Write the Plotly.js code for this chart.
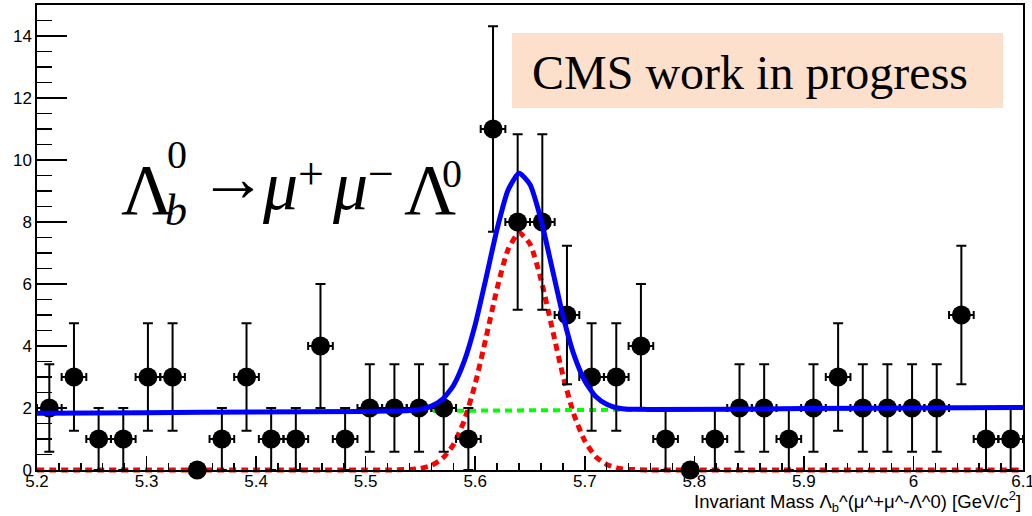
<!DOCTYPE html>
<html>
<head>
<meta charset="utf-8">
<script src="https://cdn.plot.ly/plotly-3.0.1.min.js"></script>
<style>html,body{margin:0;padding:0;background:#fff;}#chart{width:1032px;height:516px;}</style>
</head>
<body>
<div id="chart"></div>
<script>
// ---- data ----
const massCenters = [5.21125, 5.23375, 5.25625, 5.27875, 5.30125, 5.32375, 5.34625, 5.36875, 5.39125, 5.41375,
  5.43625, 5.45875, 5.48125, 5.50375, 5.52625, 5.54875, 5.57125, 5.59375, 5.61625, 5.63875,
  5.66125, 5.68375, 5.70625, 5.72875, 5.75125, 5.77375, 5.79625, 5.81875, 5.84125, 5.86375,
  5.88625, 5.90875, 5.93125, 5.95375, 5.97625, 5.99875, 6.02125, 6.04375, 6.06625, 6.08875];
const counts = [2, 3, 1, 1, 3, 3, 0, 1, 3, 1,
  1, 4, 1, 2, 2, 2, 2, 1, 11, 8,
  8, 5, 3, 3, 4, 1, 0, 1, 2, 2,
  1, 2, 3, 2, 2, 2, 2, 5, 1, 1];
const halfBinWidth = 0.01125;

const fitMass  = [5.20, 5.30, 5.40, 5.50, 5.52, 5.54, 5.55, 5.56, 5.57, 5.58, 5.59, 5.60, 5.61, 5.62, 5.63, 5.64,
  5.65, 5.66, 5.67, 5.68, 5.69, 5.70, 5.71, 5.72, 5.73, 5.74, 5.75, 5.76, 5.90, 6.00, 6.10];
const totalFit = [1.83, 1.85, 1.87, 1.89, 1.90, 1.92, 1.95, 2.06, 2.28, 2.72, 3.51, 4.69, 6.21, 7.78, 9.03, 9.57,
  9.21, 8.08, 6.54, 4.99, 3.73, 2.88, 2.37, 2.12, 2.00, 1.96, 1.96, 1.95, 1.98, 2.00, 2.02];
const signalFit = [0, 0, 0, 0, 0, 0.02, 0.05, 0.15, 0.37, 0.81, 1.60, 2.78, 4.29, 5.86, 7.11, 7.65,
  7.29, 6.15, 4.61, 3.06, 1.80, 0.94, 0.43, 0.18, 0.06, 0.02, 0.01, 0, 0, 0, 0];
const bkgMass = [5.20, 6.10];
const bkgFit  = [1.83, 2.02];

const xTitle = 'Invariant Mass \u039B<sub>b</sub>^(\u03BC^+\u03BC^-\u039B^0) [GeV/c<sup>2</sup>]';
const cmsLabel = 'CMS work in progress';

// ---- geometry helpers (pixel -> paper) ----
const M = {l: 37, r: 9, t: 5, b: 40};
const W = 1032, H = 516;
const pw = W - M.l - M.r, ph = H - M.t - M.b;
const PX = px => (px - M.l) / pw;
const PY = py => (H - M.b - py) / ph;
const yBottomPx = 470;             // pixel row of y = 0
const yDomain0 = (H - M.b - yBottomPx) / ph;
const pxPerUnit = (yBottomPx - M.t) / 15;

const serif = 'Liberation Serif';
function annB(text, left, baseline, size, opts) {
  return Object.assign({
    xref: 'paper', yref: 'paper', x: PX(left), y: PY(baseline - 0.335 * size),
    xanchor: 'left', yanchor: 'middle', showarrow: false, text: text,
    font: {family: serif, size: size, color: '#000'}, borderpad: 0
  }, opts || {});
}

const xerr = counts.map(c => c > 0 ? halfBinWidth : 0);

// 'y'  : hidden axis, same scale as the visible one but clipped a few px below 0 (curves lying on the axis)
// 'y2' : the visible axis (ticks, labels) holding the data points and the total fit
const traces = [
  {
    x: fitMass, y: signalFit, xaxis: 'x', yaxis: 'y', type: 'scatter', mode: 'lines',
    line: {color: '#ff0000', width: 5, dash: '7px,5px', shape: 'spline', smoothing: 0.6}, hoverinfo: 'skip'
  },
  {
    x: bkgMass, y: bkgFit, xaxis: 'x', yaxis: 'y', type: 'scatter', mode: 'lines',
    line: {color: '#00ff00', width: 4, dash: '7px,5px'}, hoverinfo: 'skip'
  },
  {
    x: massCenters, y: counts, xaxis: 'x', yaxis: 'y2', type: 'scatter', mode: 'markers', cliponaxis: false,
    marker: {color: '#000', size: 19},
    error_y: {type: 'sqrt', color: '#000', thickness: 2, width: 5},
    error_x: {type: 'data', array: xerr, color: '#000', thickness: 2, width: 4},
    hoverinfo: 'skip'
  },
  {
    x: fitMass, y: totalFit, xaxis: 'x', yaxis: 'y2', type: 'scatter', mode: 'lines',
    line: {color: '#0000ff', width: 5, shape: 'spline', smoothing: 0.6}, hoverinfo: 'skip'
  }
];

const tickFont = {family: 'Liberation Sans', size: 17, color: '#000'};

const layout = {
  width: W, height: H, margin: M,
  paper_bgcolor: '#fff', plot_bgcolor: 'rgba(0,0,0,0)', showlegend: false,
  xaxis: {
    range: [5.2, 6.100001], anchor: 'y2', showgrid: false, zeroline: false,
    showline: true, mirror: true, linecolor: '#000', linewidth: 1.6,
    ticks: 'inside', ticklen: 14, tickwidth: 1.5, tickcolor: '#000',
    tick0: 5.2, dtick: 0.1, tickfont: tickFont, ticklabelstandoff: -5, ticklabeloverflow: 'allow',
    minor: {ticks: 'inside', ticklen: 7, tickwidth: 1.5, tickcolor: '#000', dtick: 0.02, tick0: 5.2, showgrid: false}
  },
  yaxis: {
    domain: [0, 1], anchor: 'x', visible: false, showgrid: false, zeroline: false,
    range: [-(H - M.b - M.t - (yBottomPx - M.t)) / pxPerUnit, 15]
  },
  yaxis2: {
    range: [0, 15], domain: [yDomain0, 1], anchor: 'x', showgrid: false, zeroline: false,
    showline: true, mirror: true, linecolor: '#000', linewidth: 1.6,
    ticks: 'inside', ticklen: 30, tickwidth: 1.5, tickcolor: '#000',
    tick0: 0, dtick: 2, tickfont: tickFont,
    minor: {ticks: 'inside', ticklen: 15, tickwidth: 1.5, tickcolor: '#000', dtick: 0.5, tick0: 0, showgrid: false}
  },
  shapes: [
    {type: 'rect', xref: 'paper', yref: 'paper', x0: PX(512), x1: PX(1003), y0: PY(108), y1: PY(33),
     fillcolor: '#fde0cc', line: {width: 0}, layer: 'below'}
  ],
  annotations: [
    annB(cmsLabel, 531, 89, 48),
    // Λ_b^0 → μ+ μ- Λ0
    annB('\u039B', 120, 214, 72),
    annB('0', 166, 168, 40),
    annB('<i>b</i>', 164, 225, 44),
    annB('\u2192', 198, 201, 68),
    annB('<i>\u03BC</i>', 261, 209, 70),
    annB('+', 297, 189, 46),
    annB('<i>\u03BC</i>', 331, 209, 70),
    annB('\u2212', 367, 189, 46),
    annB('\u039B', 403, 214, 72),
    annB('0', 441, 187, 40),
    // x-axis title (right aligned like ROOT)
    {xref: 'paper', yref: 'paper', x: PX(1023), y: PY(501), xanchor: 'right', yanchor: 'middle',
     showarrow: false, text: xTitle, font: {family: 'Liberation Sans', size: 18.5, color: '#000'}}
  ]
};

Plotly.newPlot('chart', traces, layout, {staticPlot: true, displayModeBar: false});
</script>
</body>
</html>
